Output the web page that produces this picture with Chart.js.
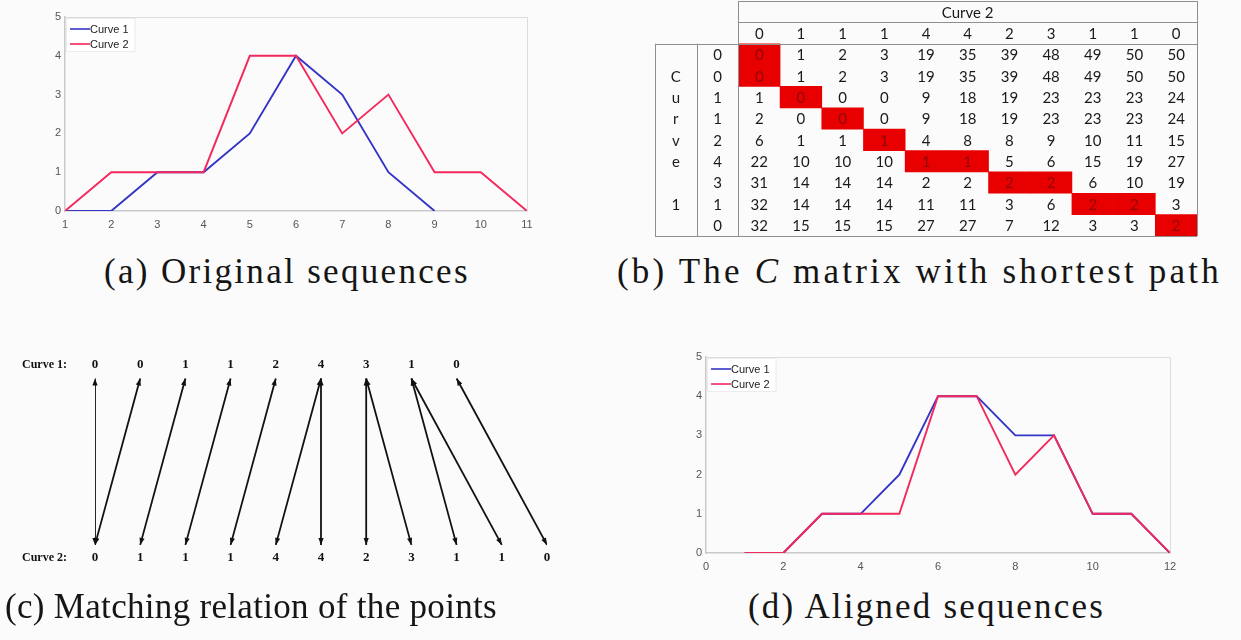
<!DOCTYPE html>
<html>
<head>
<meta charset="utf-8">
<title>Dynamic time warping of two curves</title>
<script src="https://cdn.jsdelivr.net/npm/chart.js@4.4.1/dist/chart.umd.min.js"></script>
<style>
  html, body { margin: 0; padding: 0; background: #fbfbfb; }
  body { position: relative; width: 1241px; height: 640px; overflow: hidden; }
  .panel { position: absolute; }
  .caption {
    position: absolute;
    font-family: "Liberation Serif", "DejaVu Serif", serif;
    font-size: 35px;
    line-height: 40px;
    color: #151515;
    white-space: nowrap;
  }
</style>
</head>
<body>

<canvas class="panel" id="chartA" width="600" height="245" style="left:0;top:0"></canvas>
<canvas class="panel" id="chartB" width="600" height="245" style="left:640px;top:0"></canvas>
<canvas class="panel" id="chartC" width="600" height="250" style="left:0;top:340px"></canvas>
<canvas class="panel" id="chartD" width="600" height="245" style="left:640px;top:340px"></canvas>

<div class="caption" data-width="366" style="left:104px;top:252px"><span>(a) Original sequences</span></div>
<div class="caption" data-width="605" style="left:617px;top:252px"><span>(b) The <i>C</i> matrix with shortest path</span></div>
<div class="caption" data-width="492" style="left:5px;top:587px"><span>(c) Matching relation of the points</span></div>
<div class="caption" data-width="357" style="left:748px;top:587px"><span>(d) Aligned sequences</span></div>

<script>
// Two sequences, their DTW cost matrix and the warping path between them.

const seriesNames = ['Curve 1', 'Curve 2'];
const curve1 = [0, 0, 1, 1, 2, 4, 3, 1, 0];
const curve2 = [0, 1, 1, 1, 4, 4, 2, 3, 1, 1, 0];

// sequences after alignment along the warping path
const alignedCurve1 = [0, 0, 1, 1, 2, 4, 4, 3, 3, 1, 1, 0];
const alignedCurve2 = [0, 0, 1, 1, 1, 4, 4, 2, 3, 1, 1, 0];

// accumulated cost, one row per point of curve 1
const costMatrix = [
  [0, 1, 2, 3, 19, 35, 39, 48, 49, 50, 50],
  [0, 1, 2, 3, 19, 35, 39, 48, 49, 50, 50],
  [1, 0, 0, 0, 9, 18, 19, 23, 23, 23, 24],
  [2, 0, 0, 0, 9, 18, 19, 23, 23, 23, 24],
  [6, 1, 1, 1, 4, 8, 8, 9, 10, 11, 15],
  [22, 10, 10, 10, 1, 1, 5, 6, 15, 19, 27],
  [31, 14, 14, 14, 2, 2, 2, 2, 6, 10, 19],
  [32, 14, 14, 14, 11, 11, 3, 6, 2, 2, 3],
  [32, 15, 15, 15, 27, 27, 7, 12, 3, 3, 2],
];

// warping path as [index in curve 1, index in curve 2]
const warpPath = [
  [0, 0], [1, 0], [2, 1], [3, 2], [4, 3], [5, 4],
  [5, 5], [6, 6], [6, 7], [7, 8], [7, 9], [8, 10],
];

const rowHeading = ['', 'C', 'u', 'r', 'v', 'e', '', '1', ''];
const rowLabels = ['Curve 1:', 'Curve 2:'];

const BLUE = '#3434c6';
const RED = '#f3285c';
const TICK_FONT = { family: '"Liberation Sans", Arial, sans-serif', size: 11 };

// stretch each caption to its box width with letter spacing
document.querySelectorAll('.caption').forEach((el) => {
  const span = el.firstElementChild;
  const natural = span.getBoundingClientRect().width;
  const chars = span.textContent.length;
  el.style.letterSpacing = ((+el.dataset.width - natural) / chars).toFixed(2) + 'px';
});

// ----- shared plugins for the two line plots -----

// light frame round the plot area, like a boxed axes
const axesBox = {
  id: 'axesBox',
  beforeDatasetsDraw(chart) {
    const { ctx, chartArea: a } = chart;
    ctx.save();
    ctx.strokeStyle = '#dcdcdc';
    ctx.lineWidth = 1;
    ctx.beginPath();
    ctx.moveTo(a.left, a.top + 0.5);
    ctx.lineTo(a.right + 0.5, a.top + 0.5);
    ctx.lineTo(a.right + 0.5, a.bottom);
    ctx.stroke();
    ctx.restore();
  },
};

// legend drawn in the upper-left corner of the plot area
const cornerLegend = {
  id: 'cornerLegend',
  afterDatasetsDraw(chart) {
    const { ctx, chartArea: a } = chart;
    const sets = chart.data.datasets;
    ctx.save();
    ctx.font = '11px "Liberation Sans", Arial, sans-serif';
    const textW = Math.max(...sets.map((d) => ctx.measureText(d.label).width));
    const x0 = a.left + 1;
    const y0 = a.top + 1;
    ctx.fillStyle = '#ffffff';
    ctx.fillRect(x0, y0, textW + 30, 33);
    ctx.strokeStyle = '#ececec';
    ctx.strokeRect(x0 + 0.5, y0 + 0.5, textW + 30, 33);
    sets.forEach((d, k) => {
      const y = a.top + 12 + k * 15;
      ctx.strokeStyle = d.borderColor;
      ctx.lineWidth = 1.6;
      ctx.beginPath();
      ctx.moveTo(a.left + 5, y);
      ctx.lineTo(a.left + 25, y);
      ctx.stroke();
      ctx.fillStyle = '#222';
      ctx.textBaseline = 'middle';
      ctx.fillText(d.label, a.left + 25, y + 1);
    });
    ctx.restore();
  },
};

function toPoints(values) {
  return values.map((v, i) => ({ x: i + 1, y: v }));
}

function lineChart(id, seqA, seqB, xMin, xMax, xStep, pad, yAxisW, xAxisH) {
  const lineStyle = { borderWidth: 1.9, pointRadius: 0, tension: 0, fill: false };
  return new Chart(document.getElementById(id), {
    type: 'line',
    data: {
      datasets: [
        // curve 2 is drawn over curve 1
        { label: seriesNames[0], data: toPoints(seqA), borderColor: BLUE, order: 1, ...lineStyle },
        { label: seriesNames[1], data: toPoints(seqB), borderColor: RED, order: 0, ...lineStyle },
      ],
    },
    options: {
      responsive: false,
      animation: false,
      layout: { padding: pad },
      plugins: { legend: { display: false }, tooltip: { enabled: false } },
      scales: {
        x: {
          type: 'linear',
          min: xMin,
          max: xMax,
          ticks: { stepSize: xStep, color: '#555', font: TICK_FONT, padding: 7, maxRotation: 0 },
          grid: { display: false, drawTicks: false },
          border: { color: '#c9c9c9', width: 1.5 },
          afterFit: (s) => { s.height = xAxisH; },
        },
        y: {
          min: 0,
          max: 5,
          ticks: { stepSize: 1, color: '#555', font: TICK_FONT, padding: 4 },
          grid: { display: false, drawTicks: false },
          border: { color: '#c9c9c9', width: 1.5 },
          afterFit: (s) => { s.width = yAxisW; },
        },
      },
    },
    plugins: [axesBox, cornerLegend],
  });
}

// (a) the raw sequences
lineChart('chartA', curve1, curve2, 1, 11, 1, { left: 0, top: 17, right: 73, bottom: 0 }, 65, 34);

// (d) the sequences after warping
lineChart('chartD', alignedCurve1, alignedCurve2, 0, 12, 2, { left: 0, top: 17, right: 70, bottom: 0 }, 66, 32);

// ----- (b) cost matrix with the warping path highlighted -----

// columns: row heading, curve 1 value, then one per point of curve 2
const columnKeys = ['heading', 'curve1'].concat(curve2.map((_, j) => 'c' + j));

// one floating bar per column covering the path cells in that column
const pathBars = columnKeys.map((_, k) => {
  const j = k - 2;
  const rows = warpPath.filter((p) => p[1] === j).map((p) => p[0]);
  if (!rows.length) return null;
  return [Math.min(...rows), Math.max(...rows) + 1];
});

const matrixTable = {
  id: 'matrixTable',
  afterDatasetsDraw(chart) {
    const { ctx } = chart;
    const xs = chart.scales.x;
    const ys = chart.scales.y;
    const colW = xs.getPixelForValue(1) - xs.getPixelForValue(0);
    const colCenter = (k) => xs.getPixelForValue(k);
    const colEdge = (k) => xs.getPixelForValue(k) - colW / 2;
    const rowCenter = (r) => ys.getPixelForValue(r + 0.5);
    const rowEdge = (r) => ys.getPixelForValue(r);
    const onPath = (i, j) => warpPath.some((p) => p[0] === i && p[1] === j);

    ctx.save();
    ctx.textAlign = 'center';
    ctx.textBaseline = 'middle';
    ctx.font = '15px Lato, "Open Sans", sans-serif';

    // header: title over the curve 2 columns, then the curve 2 values
    ctx.fillStyle = '#1a1a1a';
    ctx.fillText(seriesNames[1], (colEdge(2) + colEdge(13)) / 2, rowCenter(-2) + 1);
    curve2.forEach((v, j) => ctx.fillText(String(v), colCenter(j + 2), rowCenter(-1) + 1));

    costMatrix.forEach((row, i) => {
      ctx.fillStyle = '#1a1a1a';
      ctx.fillText(rowHeading[i], colCenter(0), rowCenter(i) + 1);
      ctx.fillText(String(curve1[i]), colCenter(1), rowCenter(i) + 1);
      row.forEach((v, j) => {
        ctx.fillStyle = onPath(i, j) ? '#8e0606' : '#1a1a1a';
        ctx.fillText(String(v), colCenter(j + 2), rowCenter(i) + 1);
      });
    });

    // table rules
    const n = costMatrix.length;
    const right = colEdge(13);
    ctx.strokeStyle = '#8f8f8f';
    ctx.lineWidth = 1;
    const hLine = (y, x1, x2) => {
      ctx.beginPath();
      ctx.moveTo(x1, Math.round(y) + 0.5);
      ctx.lineTo(x2, Math.round(y) + 0.5);
      ctx.stroke();
    };
    const vLine = (x, y1, y2) => {
      ctx.beginPath();
      ctx.moveTo(Math.round(x) + 0.5, y1);
      ctx.lineTo(Math.round(x) + 0.5, y2);
      ctx.stroke();
    };
    hLine(rowEdge(-2), colEdge(2), right);
    hLine(rowEdge(-1), colEdge(2), right);
    hLine(rowEdge(0), colEdge(0), right);
    hLine(rowEdge(n), colEdge(0), right);
    vLine(colEdge(0), rowEdge(0), rowEdge(n));
    vLine(colEdge(1), rowEdge(0), rowEdge(n));
    vLine(colEdge(2), rowEdge(-2), rowEdge(n));
    vLine(right, rowEdge(-2), rowEdge(n));
    ctx.restore();
  },
};

new Chart(document.getElementById('chartB'), {
  type: 'bar',
  data: {
    labels: columnKeys,
    datasets: [{
      data: pathBars,
      backgroundColor: '#e80000',
      borderWidth: 0,
      barPercentage: 1,
      categoryPercentage: 1,
    }],
  },
  options: {
    responsive: false,
    animation: false,
    layout: { padding: { left: 15, right: 43, top: 1, bottom: 9 } },
    plugins: { legend: { display: false }, tooltip: { enabled: false } },
    scales: {
      x: { display: false },
      y: { display: false, min: -2, max: costMatrix.length, reverse: true },
    },
  },
  plugins: [matrixTable],
});

// ----- (c) matching relation drawn as double-headed arrows -----

// arrows stop a little short of the number rows
const ARROW_TOP = 0.93;
const ARROW_BOTTOM = 0.068;

const matchArrows = warpPath.map(([i, j]) => ({
  data: [{ x: i, y: ARROW_TOP }, { x: j, y: ARROW_BOTTOM }],
  borderColor: '#111',
  borderWidth: 1.8,
  showLine: true,
  pointRadius: 0,
}));

function arrowHead(ctx, from, to) {
  const ang = Math.atan2(to.y - from.y, to.x - from.x);
  const len = 7;
  const half = 2.6;
  ctx.beginPath();
  ctx.moveTo(to.x, to.y);
  ctx.lineTo(to.x - len * Math.cos(ang) + half * Math.sin(ang), to.y - len * Math.sin(ang) - half * Math.cos(ang));
  ctx.lineTo(to.x - len * Math.cos(ang) - half * Math.sin(ang), to.y - len * Math.sin(ang) + half * Math.cos(ang));
  ctx.closePath();
  ctx.fill();
}

const matchLabels = {
  id: 'matchLabels',
  afterDatasetsDraw(chart) {
    const { ctx } = chart;
    const xs = chart.scales.x;
    const ys = chart.scales.y;
    ctx.save();
    ctx.fillStyle = '#111';
    chart.data.datasets.forEach((_, k) => {
      const pts = chart.getDatasetMeta(k).data;
      arrowHead(ctx, pts[1], pts[0]);
      arrowHead(ctx, pts[0], pts[1]);
    });

    ctx.textBaseline = 'middle';
    ctx.font = 'bold 13px "Liberation Serif", serif';
    ctx.textAlign = 'center';
    curve1.forEach((v, i) => ctx.fillText(String(v), xs.getPixelForValue(i), ys.getPixelForValue(1)));
    curve2.forEach((v, j) => ctx.fillText(String(v), xs.getPixelForValue(j), ys.getPixelForValue(0)));

    ctx.font = 'bold 12px "Liberation Serif", serif';
    ctx.textAlign = 'left';
    ctx.fillText(rowLabels[0], 22, ys.getPixelForValue(1));
    ctx.fillText(rowLabels[1], 22, ys.getPixelForValue(0));
    ctx.restore();
  },
};

new Chart(document.getElementById('chartC'), {
  type: 'scatter',
  data: { datasets: matchArrows },
  options: {
    responsive: false,
    animation: false,
    layout: { padding: { left: 95, right: 53, top: 25, bottom: 32 } },
    plugins: { legend: { display: false }, tooltip: { enabled: false } },
    scales: {
      x: { type: 'linear', display: false, min: 0, max: curve2.length - 1 },
      y: { type: 'linear', display: false, min: 0, max: 1 },
    },
  },
  plugins: [matchLabels],
});
</script>
</body>
</html>
